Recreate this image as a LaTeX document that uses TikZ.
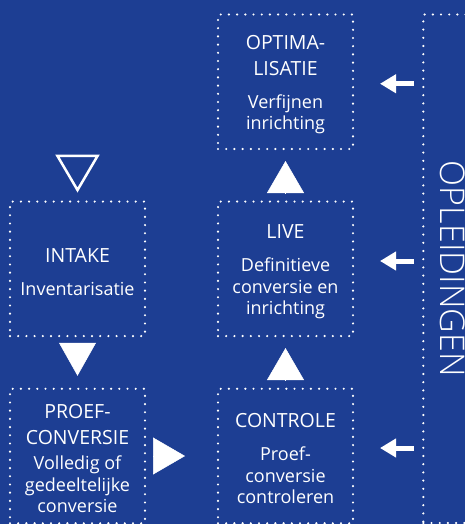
\documentclass[tikz,border=0pt]{standalone}
\usepackage{fontspec}
\setmainfont{Open Sans}
\newfontfamily\dunfont{Open Sans Light}
\usepackage{graphicx}
\usetikzlibrary{arrows.meta,calc}
\definecolor{BackClr}{RGB}{29,62,147}
\newcommand{\kop}{\fontsize{19.5}{26}\selectfont\rule{0pt}{20pt}}

\begin{document}
\begin{tikzpicture}[x=1pt,y=-1pt,
  stap/.style={draw=white,line width=2.4pt,dash pattern=on 0pt off 8.2pt,line cap=round,
    minimum width=135pt,minimum height=134.5pt,inner sep=0pt,outer sep=0pt,
    text=white,align=center,font=\fontsize{18}{21.5}\selectfont},
  pijlkop/.style={draw=white,line width=0.5pt},
  pijl/.style={draw=white,line width=5pt,shorten <=9.3pt,shorten >=27pt,
    -{Triangle[length=16pt,width=18pt]}}]
\useasboundingbox (0,0) rectangle (465,524);
\fill[BackClr] (0,0) rectangle (465,524);

\node[stap] (optim) at (285.5,81.75) {\kop OPTIMA-\\[4.5pt]\kop LISATIE\\[11.5pt]Verfijnen\\inrichting};
\node[stap] (live) at (285.5,268.8) {\kop LIVE\\[11.5pt]Definitieve\\conversie en\\inrichting};
\node[stap] (intake) at (77.5,268.8) {\kop INTAKE\\[11.5pt]Inventarisatie};
\node[stap] (proef) at (77.5,456) {\kop PROEF-\\[4.5pt]\kop CONVERSIE\\[3.5pt]Volledig of\\gedeeltelijke\\conversie};
\node[stap] (controle) at (285.5,456) {\kop CONTROLE\\[11.5pt]Proef-\\conversie\\controleren};
\node[stap,minimum width=58pt,minimum height=508.5pt,font=\dunfont\fontsize{34}{38}\selectfont]
  (opl) at (452.3,268.75) {\rotatebox{-90}{OPLEIDINGEN}};

\coordinate (start) at (77.5,155);
\draw[draw=white,line width=2.5pt,shorten >=9pt,-{Triangle[open,length=38pt,width=44pt]}] (start) -- (intake);

\draw[pijlkop,shorten <=7pt,shorten >=13pt,-{Triangle[length=33pt,width=37pt]}] (intake) -- (proef);
\draw[pijlkop,shorten <=8pt,shorten >=33pt,-{Triangle[length=32pt,width=37pt]}] (proef) -- (controle);
\draw[pijlkop,shorten <=9pt,shorten >=12pt,-{Triangle[length=32pt,width=37pt]}] (controle) -- (live);
\draw[pijlkop,shorten <=8.5pt,shorten >=12pt,-{Triangle[length=32pt,width=37pt]}] (live) -- (optim);

\draw[pijl] ($(opl.west |- optim.east)+(0,-2pt)$) -- ($(optim.east)+(0,-2pt)$);
\draw[pijl] ($(opl.west |- live.east)+(0,7.8pt)$) -- ($(live.east)+(0,7.8pt)$);
\draw[pijl] ($(opl.west |- controle.east)+(0,8pt)$) -- ($(controle.east)+(0,8pt)$);

\end{tikzpicture}
\end{document}
